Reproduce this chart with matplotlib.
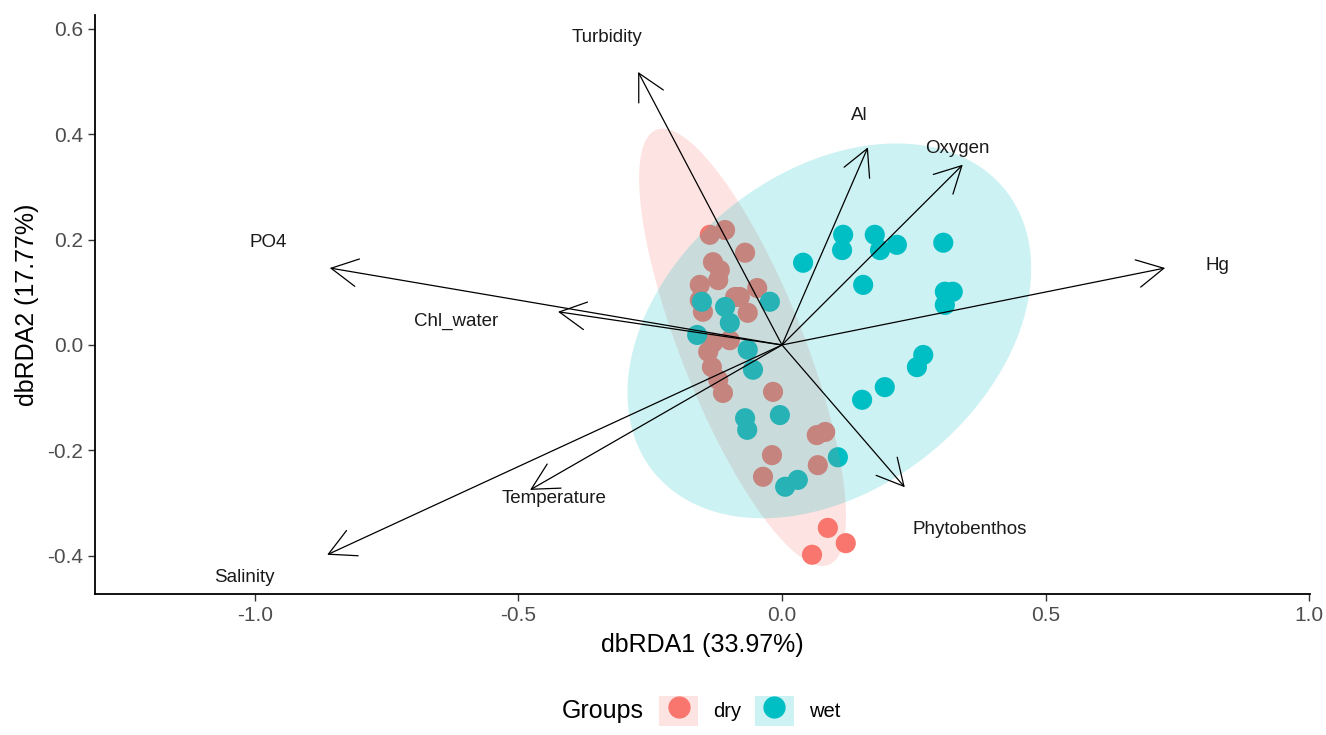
import numpy as np
import matplotlib
matplotlib.use("Agg")
import matplotlib.pyplot as plt
from matplotlib.lines import Line2D
from matplotlib.patches import Patch
from matplotlib.legend_handler import HandlerTuple

plt.rcParams['font.family'] = ['Liberation Sans', 'DejaVu Sans']

# site scores (dbRDA1, dbRDA2)
dry_x = [-0.137, -0.108, -0.070, -0.131, -0.118, -0.156, -0.121, -0.080, -0.047, -0.065,
         -0.150, -0.089, -0.131, -0.140, -0.133, -0.121, -0.112, -0.017, -0.019, -0.036,
         0.068, 0.066, 0.082, 0.087, 0.121, 0.057, -0.099, -0.156]
dry_y = [0.209, 0.218, 0.175, 0.157, 0.142, 0.114, 0.123, 0.091, 0.108, 0.061,
         0.063, 0.091, 0.004, -0.013, -0.042, -0.066, -0.091, -0.089, -0.209, -0.250,
         -0.228, -0.171, -0.165, -0.347, -0.376, -0.398, 0.009, 0.085]
wet_x = [-0.108, -0.099, -0.161, -0.152, -0.023, -0.065, -0.055, -0.070, -0.066, -0.004,
         0.006, 0.030, 0.106, 0.152, 0.195, 0.256, 0.268, 0.040, 0.116, 0.114,
         0.176, 0.186, 0.218, 0.306, 0.154, 0.309, 0.324, 0.309]
wet_y = [0.072, 0.042, 0.019, 0.082, 0.082, -0.009, -0.047, -0.139, -0.161, -0.133,
         -0.269, -0.256, -0.213, -0.104, -0.080, -0.042, -0.019, 0.156, 0.209, 0.180,
         0.209, 0.180, 0.190, 0.194, 0.114, 0.101, 0.101, 0.076]

# environmental vectors
env_names = ['Turbidity', 'Al', 'Oxygen', 'Hg', 'PO4', 'Chl_water',
             'Temperature', 'Salinity', 'Phytobenthos']
env_x = [-0.273, 0.163, 0.343, 0.727, -0.858, -0.425, -0.478, -0.863, 0.233]
env_y = [0.518, 0.375, 0.342, 0.146, 0.146, 0.063, -0.275, -0.398, -0.270]
lab_x = [-0.332, 0.147, 0.332, 0.827, -0.975, -0.619, -0.433, -1.020, 0.357]
lab_y = [0.583, 0.436, 0.372, 0.150, 0.194, 0.044, -0.292, -0.442, -0.351]

colors = {'dry': '#F8766D', 'wet': '#00BFC4'}
ELL_SCALE = 2.59  # sqrt(2 * qf(0.95, 2, n - 1)), n = 28


def cov_trob(pts, nu=5, maxit=25, tol=0.01):
    # multivariate t robust covariance, like MASS::cov.trob
    n, p = pts.shape
    loc = pts.mean(axis=0)
    w = np.ones(n)
    for _ in range(maxit):
        w0 = w
        X = pts - loc
        _, d, vt = np.linalg.svd(np.sqrt(w / w.sum())[:, None] * X, full_matrices=False)
        wX = X @ vt.T / d
        Q = (wX ** 2).sum(axis=1)
        w = (nu + p) / (nu + Q)
        loc = (w[:, None] * pts).sum(axis=0) / w.sum()
        if np.all(np.abs(w - w0) < tol):
            break
    X = pts - loc
    cov = (np.sqrt(w)[:, None] * X).T @ (np.sqrt(w)[:, None] * X) / n
    return loc, cov


def ellipse(x, y, scale=ELL_SCALE, n=200):
    pts = np.column_stack([x, y])
    c, cov = cov_trob(pts)
    L = np.linalg.cholesky(cov)
    t = np.linspace(0, 2 * np.pi, n)
    circ = np.vstack([np.cos(t), np.sin(t)]) * scale
    e = (L @ circ).T + c
    return e[:, 0], e[:, 1]


fig = plt.figure(figsize=(13.26, 7.35), dpi=100)
ax = fig.add_axes([0.0716, 0.1918, 0.9164, 0.7878])

ax.scatter(dry_x, dry_y, s=210, color=colors['dry'], edgecolors='none', zorder=2)
ax.scatter(wet_x, wet_y, s=210, color=colors['wet'], edgecolors='none', zorder=2)

for gx, gy, g in [(dry_x, dry_y, 'dry'), (wet_x, wet_y, 'wet')]:
    ex, ey = ellipse(gx, gy)
    ax.fill(ex, ey, color=colors[g], alpha=0.2, lw=0, zorder=3)

for name, x, y, lx, ly in zip(env_names, env_x, env_y, lab_x, lab_y):
    ax.annotate('', xy=(x, y), xytext=(0, 0),
                arrowprops=dict(arrowstyle='->,head_length=19,head_width=10',
                                mutation_scale=1, lw=0.9, color='black',
                                shrinkA=0, shrinkB=0), zorder=4)
    ax.text(lx, ly, name, fontsize=13.5, ha='center', va='center', color='#1a1a1a', zorder=5)

ax.set_xlim(-1.3036, 1.002)
ax.set_ylim(-0.4725, 0.626)
ax.set_xticks([-1.0, -0.5, 0.0, 0.5, 1.0])
ax.set_yticks([-0.4, -0.2, 0.0, 0.2, 0.4, 0.6])
ax.set_xticklabels(['-1.0', '-0.5', '0.0', '0.5', '1.0'])
ax.set_yticklabels(['-0.4', '-0.2', '0.0', '0.2', '0.4', '0.6'])
ax.tick_params(labelsize=15, labelcolor='#4D4D4D', length=5, width=1, color='#333333')
for s in ['top', 'right']:
    ax.spines[s].set_visible(False)
for s in ['left', 'bottom']:
    ax.spines[s].set_linewidth(1.3)
ax.set_xlabel('dbRDA1 (33.97%)', fontsize=18, labelpad=6)
ax.set_ylabel('dbRDA2 (17.77%)', fontsize=18, labelpad=6)

handles = []
for g in ['dry', 'wet']:
    bg = Patch(facecolor=colors[g], alpha=0.2, edgecolor='none')
    mk = Line2D([], [], marker='o', ls='', color=colors[g], markersize=15)
    handles.append((bg, mk))
fig.text(0.424, 0.033, 'Groups', fontsize=18, ha='left', va='center')
fig.legend(handles, ['dry', 'wet'], handler_map={tuple: HandlerTuple(ndivide=1)},
           ncol=2, frameon=False, fontsize=14.5, loc='center left',
           bbox_to_anchor=(0.4895, 0.033), handlelength=1.95, handleheight=1.9,
           handletextpad=0.75, columnspacing=0.65, borderpad=0)

fig.savefig('out.png', dpi=100)
